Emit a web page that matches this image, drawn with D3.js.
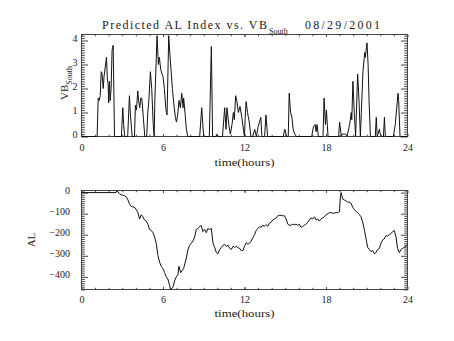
<!DOCTYPE html>
<html><head><meta charset="utf-8">
<script src="https://cdn.jsdelivr.net/npm/d3@7"></script>
<style>
body{margin:0;background:#fff;}
text{font-family:"Liberation Serif","DejaVu Serif",serif;fill:#222;}
</style></head><body>
<svg id="c" width="454" height="341"></svg>
<script>
// ---- data ----
const vbTime = [0,1.15,1.23,1.3,1.38,1.45,1.52,1.6,1.66,1.75,1.84,1.9,1.96,2.0,2.06,2.11,2.18,2.25,2.33,2.38,2.43,
2.94,3.04,3.1,3.19,3.4,3.53,3.6,3.73,3.9,3.97,4.05,4.14,4.2,4.29,4.36,4.44,4.55,4.66,
4.8,4.88,4.96,5.07,5.17,5.28,5.35,5.4,5.56,5.66,5.73,5.83,5.93,6.0,6.1,6.2,6.25,6.3,6.42,6.5,6.6,6.69,6.79,6.91,6.99,7.08,7.18,7.28,7.38,7.48,7.52,7.62,7.72,7.82,
8.7,8.85,8.99,9.41,9.56,9.65,9.9,9.95,10.05,10.38,10.54,10.64,10.71,10.84,10.96,11.08,11.18,11.25,11.35,11.43,11.55,11.67,11.8,11.92,12.0,
12.05,12.12,12.22,12.35,12.47,12.6,12.75,12.88,13.0,13.2,13.28,13.48,13.58,13.7,14.85,14.97,15.1,15.22,15.29,15.39,15.49,15.58,15.7,15.82,
16.95,17.07,17.2,17.27,17.34,17.44,17.78,17.86,17.96,18.03,18.15,18.93,19.0,19.13,19.2,19.45,19.55,19.74,19.86,19.9,19.98,20.08,20.13,20.18,
20.33,20.43,20.53,20.6,20.72,20.8,20.85,20.9,20.97,21.02,21.1,21.17,21.27,21.63,21.7,21.77,21.93,22.0,22.1,22.23,22.3,22.37,22.96,23.1,23.3,23.35,23.45,24];
const vbSouth = [0,0,1.6,1.5,1.7,2.7,2.6,2.0,2.5,2.9,3.3,2.4,2.2,1.4,2.3,1.5,2.0,3.6,3.8,2.0,0,
0,1.2,0.5,0,0,1.7,0.9,0,0,1.3,1.1,1.9,1.5,1.2,1.6,1.6,0.8,0,
0,1.0,1.5,2.7,2.0,0.5,0,1.5,4.2,3.0,3.3,2.8,2.6,2.5,2.0,1.2,1.0,0.9,4.2,3.5,2.7,2.0,1.4,0.8,0.6,0.9,1.5,1.2,1.8,1.2,1.6,1.0,0.3,0,
0,1.2,0,0,3.75,0,0,0.1,0,0,1.2,0.3,1.2,0.5,0.1,0.5,1.0,0.7,1.7,1.5,1.0,1.25,0.8,0.3,0,
0.8,1.45,1.0,0.6,0,0,0.3,0,0.4,0.8,0,0,0.9,0,0,0.3,0,0,1.8,1.0,0.8,0.3,0.1,0,
0,0.4,0.5,0.2,0.5,0,0,1.6,0.5,1.1,0,0,0.6,0,0.1,0.1,0,0.5,1.0,0.7,2.3,1.0,0.5,0,
2.6,1.5,0,1.0,2.7,3.2,3.5,3.3,3.7,3.9,3.0,1.5,0,0,0.8,0,0.3,0.1,0,0,0.8,0,0,0.5,1.8,1.5,0,0];

const alTime = [0,2.55,2.6,2.8,2.92,3.05,3.17,3.29,3.42,3.54,3.66,3.78,3.91,4.03,4.15,4.28,4.4,4.52,4.64,4.77,4.89,5.01,5.14,5.26,5.38,5.5,5.63,5.75,5.87,5.99,6.12,6.24,6.36,6.49,6.56,6.73,6.85,6.98,7.1,7.17,7.3,7.42,7.52,7.64,7.72,7.84,7.96,8.08,8.21,8.33,8.45,8.57,8.7,8.82,8.94,9.07,9.19,9.31,9.43,9.56,9.68,9.8,9.93,10.05,10.17,10.3,10.42,10.54,10.66,10.79,10.91,11.03,11.16,11.28,11.4,11.52,11.65,
11.75,11.88,12.0,12.12,12.25,12.37,12.49,12.61,12.74,12.86,12.98,13.1,13.23,13.35,13.47,13.59,13.72,13.84,13.96,14.08,14.21,14.33,14.45,14.57,14.7,14.82,14.94,15.06,15.19,15.31,15.43,15.55,15.68,15.8,15.92,16.04,16.17,16.29,16.41,16.53,16.66,16.78,16.9,17.02,17.15,17.27,17.39,17.51,17.64,17.76,17.88,18.0,18.13,18.25,18.37,18.5,18.62,18.74,18.86,18.99,19.06,19.11,19.23,19.35,19.48,19.6,19.72,19.84,19.97,20.09,20.21,20.33,20.46,20.58,20.7,20.82,20.95,21.07,21.19,21.31,21.44,21.56,21.68,21.8,21.93,22.05,22.17,22.29,22.41,22.54,22.66,22.78,22.91,23.03,23.15,23.27,23.4,23.52,23.64,23.76,23.89,24.0];
const alIndex = [0,0,10,-5,-10,-12,-15,-20,-35,-55,-65,-68,-70,-80,-95,-125,-105,-115,-130,-135,-150,-175,-180,-190,-210,-240,-300,-330,-350,-360,-380,-400,-410,-440,-460,-450,-420,-400,-390,-350,-380,-370,-360,-330,-310,-270,-250,-240,-230,-210,-175,-170,-160,-157,-185,-175,-190,-170,-175,-170,-240,-260,-285,-290,-270,-260,-250,-245,-255,-250,-265,-270,-255,-260,-255,-262,-265,
-275,-275,-255,-238,-245,-240,-230,-215,-200,-180,-170,-162,-165,-155,-160,-152,-160,-145,-140,-130,-125,-120,-110,-108,-108,-110,-110,-125,-150,-155,-155,-150,-152,-150,-155,-150,-165,-160,-155,-150,-140,-130,-120,-125,-115,-130,-125,-135,-125,-120,-115,-105,-100,-95,-95,-98,-97,-95,-95,-90,-20,0,-30,-35,-40,-45,-45,-50,-70,-80,-90,-95,-105,-115,-140,-175,-220,-260,-270,-280,-275,-290,-285,-270,-265,-240,-225,-220,-205,-205,-200,-195,-185,-180,-210,-265,-285,-270,-265,-260,-255,-245];

const xTickVals = [0,6,12,18,24];
const vbTickVals = [0,1,2,3,4];
const alTickVals = [0,-100,-200,-300,-400];

// ---- drawing ----
const svg = d3.select("#c");
const L = 81.5, R = 407.5;
const FS = 10;

function panel(opts){
  const x = d3.scaleLinear().domain([0,24]).range([L,R]);
  const y = d3.scaleLinear().domain(opts.ydom).range([opts.bottom, opts.top]);
  const g = svg.append("g");
  const ph = opts.bottom - opts.top, pw = R - L;
  const xMaj = ph*0.02+0.5, xMin = xMaj/2+0.5;
  const yMaj = pw*0.02, yMin = yMaj/2;
  [[opts.bottom, d3.axisTop], [opts.top, d3.axisBottom]].forEach(([yy, gen])=>{
    g.append("g").attr("transform",`translate(0,${yy})`)
      .call(gen(x).tickValues(d3.range(1,24,1)).tickSize(xMin).tickSizeOuter(0).tickFormat(""))
      .call(s=>s.select(".domain").remove());
    g.append("g").attr("transform",`translate(0,${yy})`)
      .call(gen(x).tickValues(xTickVals).tickSize(xMaj).tickSizeOuter(0).tickFormat(""))
      .call(s=>s.select(".domain").remove());
  });
  // x labels
  g.append("g").attr("transform",`translate(0,${opts.bottom})`)
    .call(d3.axisBottom(x).tickValues(xTickVals).tickSize(0).tickPadding(opts.xlabPad).tickFormat(d3.format("d")))
    .call(s=>{s.select(".domain").remove(); s.selectAll("text").attr("font-size",FS).attr("font-family","Liberation Serif").attr("fill","#222");});
  // y ticks
  const [y0,y1] = opts.ydom;
  const minorY = d3.range(Math.ceil(y0/opts.minorStep)*opts.minorStep, y1+1e-9, opts.minorStep).filter(v=>!opts.ticks.some(t=>Math.abs(t-v)<1e-9));
  [[L, d3.axisRight],[R, d3.axisLeft]].forEach(([xx,gen])=>{
    g.append("g").attr("transform",`translate(${xx},0)`)
      .call(gen(y).tickValues(minorY).tickSize(yMin).tickSizeOuter(0).tickFormat(""))
      .call(s=>s.select(".domain").remove());
    g.append("g").attr("transform",`translate(${xx},0)`)
      .call(gen(y).tickValues(opts.ticks).tickSize(yMaj).tickSizeOuter(0).tickFormat(""))
      .call(s=>s.select(".domain").remove());
  });
  g.append("g").attr("transform",`translate(${L},0)`)
    .call(d3.axisLeft(y).tickValues(opts.ticks).tickSize(0).tickPadding(opts.ylabPad).tickFormat(d=> d<0 ? "\u2212"+Math.abs(d) : String(d)))
    .call(s=>{s.select(".domain").remove(); s.selectAll("text").attr("font-size",FS).attr("font-family","Liberation Serif").attr("fill","#222").attr("dy","0.05em");});
  g.selectAll(".tick line").attr("stroke","#444");
  // frame
  g.append("rect").attr("x",L).attr("y",opts.top).attr("width",pw).attr("height",ph)
    .attr("fill","none").attr("stroke","#444").attr("stroke-width",1);
  // data
  const line = d3.line().x((d,i)=>x(opts.xs[i])).y((d,i)=>y(opts.ys[i]));
  g.append("path").datum(opts.ys).attr("d",line).attr("fill","none").attr("stroke","#111").attr("stroke-width",1);
  // x title
  g.append("text").attr("x",(L+R)/2).attr("y",opts.bottom+opts.xtitleOff).attr("text-anchor","middle")
    .attr("font-size",11).attr("textLength",60).attr("lengthAdjust","spacingAndGlyphs").text("time(hours)");
  return {x,y,g};
}

panel({top:34.5,bottom:136.5,ydom:[0,4.25],ticks:vbTickVals,minorStep:0.1,xs:vbTime,ys:vbSouth,xlabPad:7,ylabPad:4,xtitleOff:29});
panel({top:190.5,bottom:289.5,ydom:[-460,10],ticks:alTickVals,minorStep:10,xs:alTime,ys:alIndex,xlabPad:6.5,ylabPad:11.5,xtitleOff:27});

// title
const t = svg.append("text").attr("y",29).attr("font-size",12);
t.append("tspan").attr("x",102).attr("textLength",165).attr("lengthAdjust","spacing").text("Predicted AL Index vs. VB");
t.append("tspan").attr("x",269).attr("dy",5).attr("font-size",8).text("South");
t.append("tspan").attr("x",305).attr("dy",-5).attr("textLength",75).attr("lengthAdjust","spacing").text("08/29/2001");

// y titles
const yt1 = svg.append("text").attr("transform","translate(68,100) rotate(-90)").attr("font-size",11);
yt1.append("tspan").attr("x",0).text("VB");
yt1.append("tspan").attr("dy",3.5).attr("font-size",8).text("South");
svg.append("text").attr("transform","translate(35,240) rotate(-90)").attr("text-anchor","middle").attr("font-size",11).text("AL");
</script></body></html>
